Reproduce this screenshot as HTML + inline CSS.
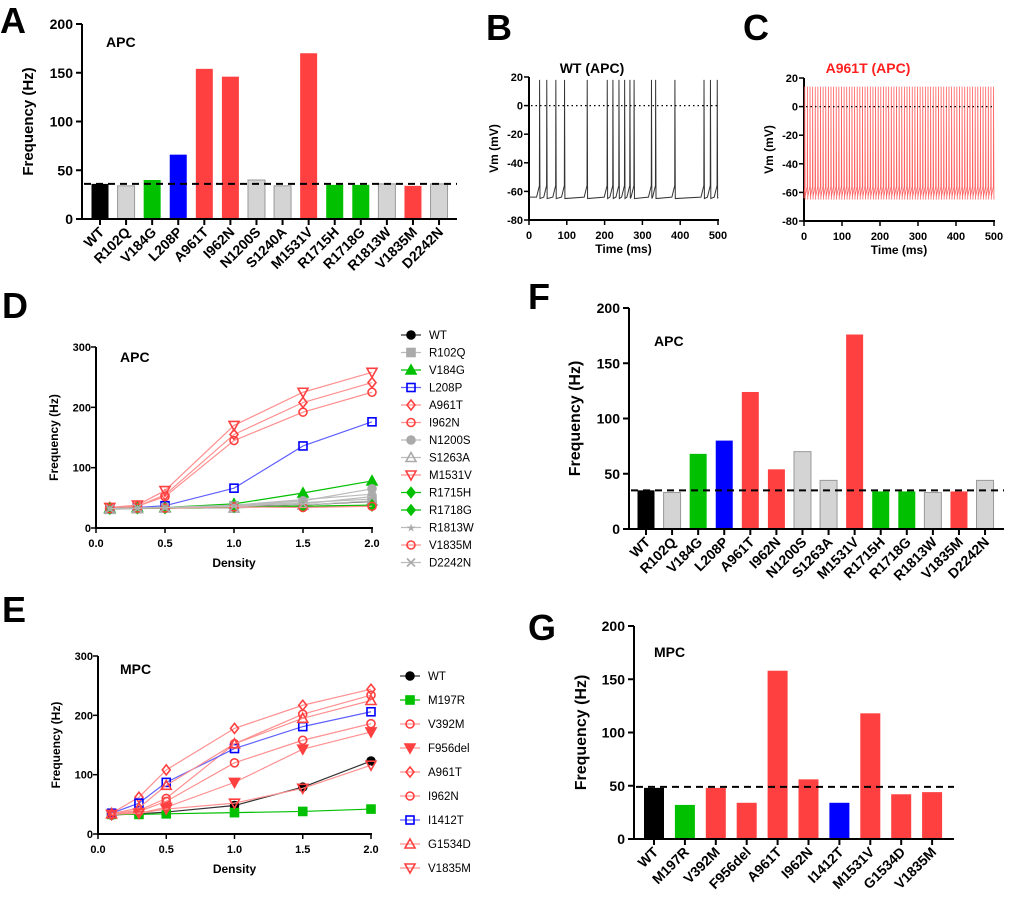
<!DOCTYPE html>
<html><head><meta charset="utf-8"><style>
body{margin:0;background:#fff}
svg{display:block;font-family:"Liberation Sans",Arial,sans-serif}
</style></head><body>
<svg id="fig" width="1024" height="913" viewBox="0 0 1024 913" xmlns="http://www.w3.org/2000/svg">
<g font-weight="bold" font-size="36" fill="#000">
<text x="0" y="33">A</text>
<text x="486" y="40">B</text>
<text x="743" y="40">C</text>
<text x="2" y="318">D</text>
<text x="2" y="622">E</text>
<text x="528" y="309">F</text>
<text x="528" y="640">G</text>
</g>
</svg>
<script>
// ---- Panel A data ----
const aCats=["WT","R102Q","V184G","L208P","A961T","I962N","N1200S","S1240A","M1531V","R1715H","R1718G","R1813W","V1835M","D2242N"];
const aVals=[36,34,40,66,154,146,40,34,170,35,35,36,34,36];
const aCols=["k","g","G","b","r","r","g","g","r","G","G","g","r","g"];
const aRef=36;
// ---- Panel F data ----
const fCats=["WT","R102Q","V184G","L208P","A961T","I962N","N1200S","S1263A","M1531V","R1715H","R1718G","R1813W","V1835M","D2242N"];
const fVals=[35,33,68,80,124,54,70,44,176,34,34,33,34,44];
const fCols=["k","g","G","b","r","r","g","g","r","G","G","g","r","g"];
const fRef=35;
// ---- Panel G data ----
const gCats=["WT","M197R","V392M","F956del","A961T","I962N","I1412T","M1531V","G1534D","V1835M"];
const gVals=[48,32,48,34,158,56,34,118,42,44];
const gCols=["k","G","r","r","r","r","b","r","r","r"];
const gRef=49;
// ---- Panel D data ----
const densities=[0.1,0.3,0.5,1.0,1.5,2.0];
const dNames=["WT","R102Q","V184G","L208P","A961T","I962N","N1200S","S1263A","M1531V","R1715H","R1718G","R1813W","V1835M","D2242N"];
const dWT=[32,33,33,35,38,44];
const dR102Q=[32,33,34,37,42,48];
const dV184G=[33,34,34,40,58,78];
const dL208P=[32,34,37,66,136,176];
const dA961T=[34,36,55,155,208,241];
const dI962N=[34,36,52,145,192,225];
const dN1200S=[32,33,34,37,45,65];
const dS1263A=[31,32,33,33,38,45];
const dM1531V=[34,38,62,170,225,258];
const dR1715H=[32,33,33,35,36,38];
const dR1718G=[32,33,33,35,36,37];
const dR1813W=[32,33,34,38,47,56];
const dV1835M=[32,33,33,35,34,36];
const dD2242N=[32,33,34,36,40,52];
const dSeries=[dWT,dR102Q,dV184G,dL208P,dA961T,dI962N,dN1200S,dS1263A,dM1531V,dR1715H,dR1718G,dR1813W,dV1835M,dD2242N];
const dStyle=[["k","dot"],["g","sq"],["G","tri"],["b","osq"],["r","odia"],["r","ocirc"],["g","dot"],["g","otri"],["r","otrid"],["G","dia"],["G","dia"],["g","star"],["r","ocirc"],["g","x"]];
// ---- Panel E data ----
const eNames=["WT","M197R","V392M","F956del","A961T","I962N","I1412T","G1534D","V1835M"];
const eWT=[32,34,37,48,79,123];
const eM197R=[33,33,34,36,38,42];
const eV392M=[34,40,60,152,202,234];
const eF956del=[33,35,45,87,143,172];
const eA961T=[35,62,108,178,217,244];
const eI962N=[33,38,55,120,158,186];
const eI1412T=[35,52,87,144,181,206];
const eG1534D=[34,44,82,152,195,225];
const eV1835M=[33,35,42,52,77,116];
const eSeries=[eWT,eM197R,eV392M,eF956del,eA961T,eI962N,eI1412T,eG1534D,eV1835M];
const eStyle=[["k","dot"],["G","sq"],["r","ocirc"],["r","trid"],["r","odia"],["r","ocirc"],["b","osq"],["r","otri"],["r","otrid"]];
// ---- Panel B/C traces ----
const wtSpikes=[28,47,71,94,154,207,222,238,253,267,278,324,335,386,463,480,498];
const a961Period=6.9;
const vTicks=[20,0,-20,-40,-60,-80];
const tTicks=[0,100,200,300,400,500];

const NS="http://www.w3.org/2000/svg";
const svg=document.getElementById("fig");
const COL={k:"#000",g:"#d4d4d4",G:"#00c000",b:"#0000ff",r:"#ff4040"};
const LINE={k:"#333",g:"#bbb",G:"#00c000",b:"#6060ff",r:"#ff9090"};
function el(tag,attrs,parent,txt){const e=document.createElementNS(NS,tag);for(const k in attrs)e.setAttribute(k,attrs[k]);if(txt!==undefined)e.textContent=txt;(parent||svg).appendChild(e);return e;}

function barChart(o){
  const g=el("g",{});
  
  
  const ys=v=>o.y0-(v/200)*(o.y0-o.y200);
  const xs=i=>o.c0+i*o.step;
  o.vals.forEach((v,i)=>{
    const c=o.cols[i];
    const r=el("rect",{x:xs(i)-o.bw/2,y:ys(v),width:o.bw,height:o.y0-ys(v),fill:COL[c],stroke:c==="g"?"#999":"none","stroke-width":1},g);
    
    
  });
  el("line",{x1:o.ax,y1:o.y200,x2:o.ax,y2:o.y0+1,stroke:"#000","stroke-width":2},g);
  el("line",{x1:o.ax-1,y1:o.y0,x2:o.xEnd,y2:o.y0,stroke:"#000","stroke-width":2},g);
  [0,50,100,150,200].forEach(t=>{
    el("line",{x1:o.ax-6,y1:ys(t),x2:o.ax,y2:ys(t),stroke:"#000","stroke-width":2},g);
    const tx=el("text",{x:o.ax-9,y:ys(t)+5,"text-anchor":"end","font-size":o.fs,"font-weight":"bold"},g,String(t));
    
    
  });
  o.cats.forEach((c,i)=>{
    el("line",{x1:xs(i),y1:o.y0,x2:xs(i),y2:o.y0+6,stroke:"#000","stroke-width":2},g);
    const tx=el("text",{x:xs(i)+5,y:o.y0+14,"text-anchor":"end","font-size":o.fs,"font-weight":"bold",transform:`rotate(-45 ${xs(i)+5} ${o.y0+14})`},g,c);
    
    
  });
  const ref=el("line",{x1:o.ax+2,y1:ys(o.ref),x2:o.xEnd,y2:ys(o.ref),stroke:"#000","stroke-width":2,"stroke-dasharray":"7,5"},g);
  
  
  const yt=el("text",{x:0,y:0,"text-anchor":"middle","font-size":o.tfs,"font-weight":"bold",transform:`translate(${o.ytx} ${(o.y0+o.y200)/2}) rotate(-90)`},g,"Frequency (Hz)");
  
  
  const tt=el("text",{x:o.titleX,y:o.titleY,"font-size":14,"font-weight":"bold"},g,o.title);
  
  
}
barChart({name:"panel-a-bar-chart",cats:aCats,vals:aVals,cols:aCols,ref:aRef,ax:82,y0:219,y200:24,c0:100,step:26.08,bw:17,xEnd:457,fs:14,tfs:15,ytx:33,title:"APC",titleX:106,titleY:47});
barChart({name:"panel-f-bar-chart",cats:fCats,vals:fVals,cols:fCols,ref:fRef,ax:629,y0:529,y200:308,c0:646,step:26.08,bw:17,xEnd:1004,fs:14,tfs:16,ytx:580,title:"APC",titleX:654,titleY:346});
barChart({name:"panel-g-bar-chart",cats:gCats,vals:gVals,cols:gCols,ref:gRef,ax:634,y0:839,y200:626,c0:654,step:30.9,bw:20,xEnd:954,fs:14,tfs:16,ytx:586,title:"MPC",titleX:654,titleY:657});

function marker(g,x,y,shape,c,s){
  const col=COL[c]==="#d4d4d4"?"#aaa":COL[c];
  const f=shape.startsWith("o")?"none":col;
  const a={fill:f,stroke:col,"stroke-width":1.6};
  if(shape==="dot"||shape==="ocirc")el("circle",Object.assign({cx:x,cy:y,r:s},a),g);
  else if(shape==="sq"||shape==="osq")el("rect",Object.assign({x:x-s,y:y-s,width:2*s,height:2*s},a),g);
  else if(shape==="tri"||shape==="otri")el("polygon",Object.assign({points:`${x},${y-s-1} ${x-s-1},${y+s} ${x+s+1},${y+s}`},a),g);
  else if(shape==="trid"||shape==="otrid")el("polygon",Object.assign({points:`${x},${y+s+1} ${x-s-1},${y-s} ${x+s+1},${y-s}`},a),g);
  else if(shape==="dia"||shape==="odia")el("polygon",Object.assign({points:`${x},${y-s-1} ${x+s},${y} ${x},${y+s+1} ${x-s},${y}`},a),g);
  else if(shape==="star")el("text",{x:x,y:y+4,"text-anchor":"middle","font-size":11,fill:col},g,"★");
  else if(shape==="x"){el("path",{d:`M${x-s} ${y-s}L${x+s} ${y+s}M${x-s} ${y+s}L${x+s} ${y-s}`,stroke:col,"stroke-width":1.6},g);}
}
function lineChart(o){
  const g=el("g",{});
  
  
  const xs=d=>o.ax+d*(o.x2-o.ax)/2;
  const ys=v=>o.y0-v*(o.y0-o.y300)/300;
  el("line",{x1:o.ax,y1:o.y300,x2:o.ax,y2:o.y0+1,stroke:"#000","stroke-width":2},g);
  el("line",{x1:o.ax-1,y1:o.y0,x2:o.x2+1,y2:o.y0,stroke:"#000","stroke-width":2},g);
  [0,100,200,300].forEach(t=>{
    el("line",{x1:o.ax-5,y1:ys(t),x2:o.ax,y2:ys(t),stroke:"#000","stroke-width":1.5},g);
    el("text",{x:o.ax-5,y:ys(t)+4,"text-anchor":"end","font-size":11,"font-weight":"bold"},g,String(t));
  });
  [0,0.5,1,1.5,2].forEach(t=>{
    el("line",{x1:xs(t),y1:o.y0,x2:xs(t),y2:o.y0+5,stroke:"#000","stroke-width":1.5},g);
    el("text",{x:xs(t),y:o.y0+19,"text-anchor":"middle","font-size":11,"font-weight":"bold"},g,t.toFixed(1));
  });
  const xt=el("text",{x:(o.ax+o.x2)/2,y:o.y0+39,"text-anchor":"middle","font-size":12,"font-weight":"bold"},g,"Density");
  
  
  const yt=el("text",{x:0,y:0,"text-anchor":"middle","font-size":12,"font-weight":"bold",transform:`translate(${o.ax-38} ${(o.y0+o.y300)/2}) rotate(-90)`},g,"Frequency (Hz)");
  
  
  const tt=el("text",{x:o.titleX,y:o.titleY,"font-size":14,"font-weight":"bold"},g,o.title);
  
  
  o.series.forEach((s,k)=>{
    const [c,sh]=o.style[k];
    const sg=el("g",{},g);
    
    
    el("polyline",{points:s.map((v,i)=>xs(densities[i])+","+ys(v)).join(" "),fill:"none",stroke:LINE[c],"stroke-width":1.2},sg);
    s.forEach((v,i)=>marker(sg,xs(densities[i]),ys(v),sh,c,4));
    const ly=o.legY+k*o.legStep;
    const lg=el("g",{},g);
    
    
    el("line",{x1:o.legX-10,y1:ly,x2:o.legX+10,y2:ly,stroke:LINE[c],"stroke-width":1.2},lg);
    marker(lg,o.legX,ly,sh,c,4);
    el("text",{x:o.legX+18,y:ly+4,"font-size":11.5},lg,o.names[k]);
  });
}
lineChart({name:"panel-d-line-chart",series:dSeries,style:dStyle,names:dNames,ax:96,x2:372,y0:528,y300:347,title:"APC",titleX:120,titleY:362,legX:411,legY:335,legStep:17.5});
lineChart({name:"panel-e-line-chart",series:eSeries,style:eStyle,names:eNames,ax:98,x2:371,y0:834,y300:656,title:"MPC",titleX:120,titleY:674,legX:410,legY:676,legStep:24});

function trace(o){
  const g=el("g",{});
  
  
  const xs=t=>o.ax+t*(o.x500-o.ax)/500;
  const ys=v=>o.y20+(20-v)*(o.ym80-o.y20)/100;
  el("line",{x1:o.ax,y1:o.y20,x2:o.ax,y2:o.ym80+1,stroke:"#000","stroke-width":2},g);
  el("line",{x1:o.ax-1,y1:o.ym80,x2:o.x500+1,y2:o.ym80,stroke:"#000","stroke-width":2},g);
  vTicks.forEach(t=>{el("line",{x1:o.ax-5,y1:ys(t),x2:o.ax,y2:ys(t),stroke:"#000","stroke-width":1.5},g);
    el("text",{x:o.ax-6,y:ys(t)+4,"text-anchor":"end","font-size":11,"font-weight":"bold"},g,String(t));});
  tTicks.forEach(t=>{el("line",{x1:xs(t),y1:o.ym80,x2:xs(t),y2:o.ym80+5,stroke:"#000","stroke-width":1.5},g);
    el("text",{x:xs(t),y:o.ym80+19,"text-anchor":"middle","font-size":11,"font-weight":"bold"},g,String(t));});
  el("text",{x:(o.ax+o.x500)/2,y:o.ym80+33,"text-anchor":"middle","font-size":12,"font-weight":"bold"},g,"Time (ms)");
  el("text",{x:0,y:0,"text-anchor":"middle","font-size":12,"font-weight":"bold",transform:`translate(${o.ax-31} ${(o.y20+o.ym80)/2}) rotate(-90)`},g,"Vm (mV)");
  const tt=el("text",{x:o.titleX,y:o.titleY,"text-anchor":"middle","font-size":14,"font-weight":"bold",fill:o.tcol},g,o.title);
  
  
  let d=`M${xs(0)} ${ys(-64)}`;
  let last=0;
  o.spikes.forEach(t=>{
    d+=` L${xs(Math.max(last,t-8))} ${ys(o.base)} L${xs(t-0.5)} ${ys(-56)} L${xs(t)} ${ys(o.peak)} L${xs(t+1)} ${ys(-65)}`;
    last=t+1;
  });
  d+=` L${xs(500)} ${ys(o.base)}`;
  const p=el("path",{d:d,fill:"none",stroke:o.col,"stroke-width":o.sw},g);
  
  
  el("line",{x1:o.ax+2,y1:ys(0),x2:o.x500,y2:ys(0),stroke:"#000","stroke-width":1.3,"stroke-dasharray":"1.5,3"},g);
}
trace({name:"panel-b-wt-trace",spikes:wtSpikes,ax:529,x500:718,y20:77,ym80:220,title:"WT (APC)",titleX:592,titleY:73,tcol:"#000",col:"#333",sw:1,base:-64,peak:18});
const cSp=[];for(let t=2;t<500;t+=a961Period)cSp.push(t);
trace({name:"panel-c-a961t-trace",spikes:cSp,ax:804,x500:994,y20:78,ym80:221,title:"A961T (APC)",titleX:868,titleY:73,tcol:"#ff2020",col:"#ff6060",sw:0.8,base:-63,peak:14});
</script>
</body></html>
